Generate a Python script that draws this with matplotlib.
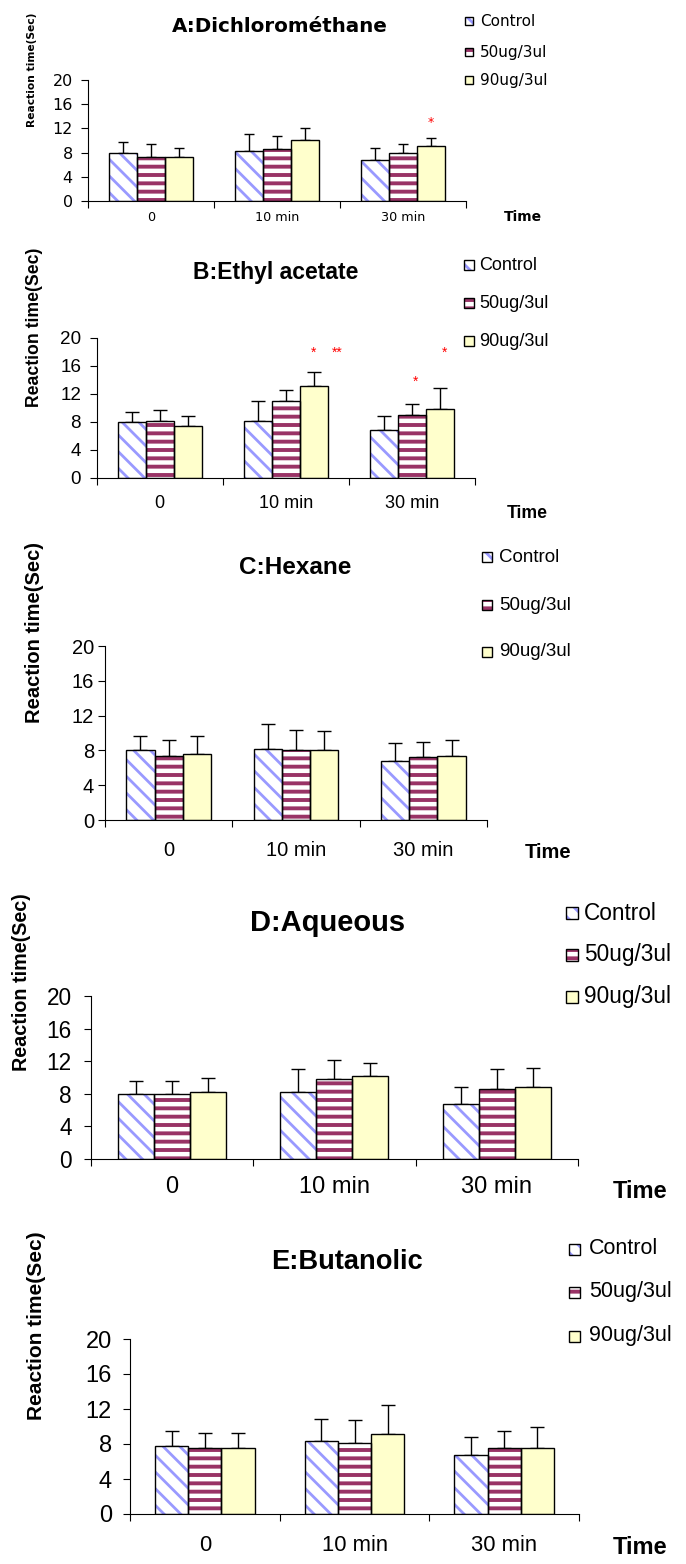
import numpy as np
import matplotlib
matplotlib.use("Agg")
import matplotlib.pyplot as plt
from matplotlib.patches import Rectangle

plt.rcParams['hatch.linewidth'] = 2.0
plt.rcParams['font.family'] = ['Liberation Sans', 'DejaVu Sans']

W, H = 686, 1564
fig = plt.figure(figsize=(W / 100, H / 100), dpi=100)

categories = ["0", "10 min", "30 min"]
series_names = ["Control", "50ug/3ul", "90ug/3ul"]

# Panel values (means) and upper error (SD)
A_control = [7.9, 8.2, 6.8]
A_50 = [7.3, 8.6, 7.9]
A_90 = [7.3, 10.1, 9.1]
A_control_sd = [1.8, 2.8, 2.0]
A_50_sd = [2.2, 2.1, 1.5]
A_90_sd = [1.5, 2.0, 1.3]

B_control = [8.0, 8.2, 6.8]
B_50 = [8.2, 11.0, 9.0]
B_90 = [7.4, 13.1, 9.9]
B_control_sd = [1.5, 2.8, 2.0]
B_50_sd = [1.5, 1.6, 1.6]
B_90_sd = [1.5, 2.0, 2.9]

C_control = [8.0, 8.2, 6.8]
C_50 = [7.4, 8.0, 7.2]
C_90 = [7.6, 8.0, 7.4]
C_control_sd = [1.6, 2.8, 2.0]
C_50_sd = [1.8, 2.4, 1.8]
C_90_sd = [2.0, 2.2, 1.8]

D_control = [8.0, 8.2, 6.8]
D_50 = [8.0, 9.8, 8.6]
D_90 = [8.2, 10.2, 8.8]
D_control_sd = [1.6, 2.8, 2.0]
D_50_sd = [1.6, 2.4, 2.4]
D_90_sd = [1.8, 1.6, 2.4]

E_control = [7.8, 8.3, 6.7]
E_50 = [7.6, 8.1, 7.5]
E_90 = [7.5, 9.1, 7.6]
E_control_sd = [1.7, 2.6, 2.1]
E_50_sd = [1.7, 2.6, 2.0]
E_90_sd = [1.8, 3.4, 2.3]

yticks = [0, 4, 8, 12, 16, 20]

# significance marks: (text, x in category units, y value)
A_stars = [("*", 2.72, 13.0)]
B_stars = [("*", 1.72, 17.9), ("**", 1.91, 17.9), ("*", 2.53, 13.7), ("*", 2.76, 17.9)]

titles = ["A:Dichlorométhane", "B:Ethyl acetate", "C:Hexane", "D:Aqueous", "E:Butanolic"]

BLUE = "#9999FF"
MAROON = "#993366"
YELLOW = "#FFFFCC"
styles = [
    dict(face="white", hc=BLUE, hatch="\\\\", hlw=2.0),
    dict(face=MAROON, hc="white", hatch="--", hlw=3.2),
    dict(face=YELLOW, hc=YELLOW, hatch=None, hlw=2.0),
]

# layout in pixels (top-origin); font sizes in points
layouts = [
    dict(left=88, right=466, ytop=80, ybot=201, title=(280, 27, 14.3), sq_x=465, txt_x=480, leg_y=[21, 52, 80],
         leg_fs=11, time=(523, 217, 10), xt_fs=9.2, xt_pad=7.2, yt_fs=11.5, yt_pad=6, yl=(32, 70, 7.7),
         fam=['DejaVu Sans'], sq=8, star_fs=9, cap=3.6),
    dict(left=96.5, right=475, ytop=338, ybot=478, title=(276, 273, 16.5), sq_x=464, txt_x=479, leg_y=[265, 303, 341],
         leg_fs=13, time=(527, 513, 12.7), xt_fs=13, xt_pad=12.2, yt_fs=13.6, yt_pad=6, yl=(35, 327, 12.7),
         fam=['Liberation Sans'], sq=10, star_fs=10, cap=5),
    dict(left=105, right=487, ytop=646, ybot=820, title=(295, 568, 17.5), sq_x=482, txt_x=499, leg_y=[557, 605, 652],
         leg_fs=13.5, time=(548, 852, 14.5), xt_fs=14.5, xt_pad=15, yt_fs=14.5, yt_pad=3, yl=(35, 633, 14.5),
         fam=['Liberation Sans'], sq=10, star_fs=10, cap=5),
    dict(left=90.5, right=578, ytop=996, ybot=1159, title=(328, 923, 21), sq_x=566, txt_x=584, leg_y=[913, 955, 997],
         leg_fs=16.3, time=(640, 1192, 17), xt_fs=17, xt_pad=12.2, yt_fs=16.3, yt_pad=8.6, yl=(22, 982, 14.2),
         fam=['Liberation Sans'], sq=12, star_fs=10, cap=5),
    dict(left=130, right=579, ytop=1339, ybot=1514, title=(347, 1262, 19.6), sq_x=569, txt_x=589, leg_y=[1249, 1292, 1336],
         leg_fs=15.5, time=(640, 1547, 17), xt_fs=15.8, xt_pad=15, yt_fs=17, yt_pad=8, yl=(37, 1326, 15),
         fam=['Liberation Sans'], sq=11, star_fs=10, cap=5),
]

panels = [
    ([A_control, A_50, A_90], [A_control_sd, A_50_sd, A_90_sd], A_stars),
    ([B_control, B_50, B_90], [B_control_sd, B_50_sd, B_90_sd], B_stars),
    ([C_control, C_50, C_90], [C_control_sd, C_50_sd, C_90_sd], []),
    ([D_control, D_50, D_90], [D_control_sd, D_50_sd, D_90_sd], []),
    ([E_control, E_50, E_90], [E_control_sd, E_50_sd, E_90_sd], []),
]


def fx(x):
    return x / W


def fy(y):
    return 1 - y / H


def set_hlw(patch, lw):
    if hasattr(patch, 'set_hatch_linewidth'):
        try:
            patch.set_hatch_linewidth(lw)
        except Exception:
            pass


bw = 0.222
for (vals, sds, stars), lay, title in zip(panels, layouts, titles):
    fam = lay['fam']
    ax = fig.add_axes([fx(lay['left']), fy(lay['ybot']), (lay['right'] - lay['left']) / W,
                       (lay['ybot'] - lay['ytop']) / H])
    ax.set_xlim(0, 3)
    ax.set_ylim(0, 20)
    centers = np.arange(len(categories)) + 0.5
    for i, (v, sd, st) in enumerate(zip(vals, sds, styles)):
        x = centers + (i - 1) * bw
        ax.errorbar(x, v, yerr=[np.zeros(len(v)), sd], fmt='none', ecolor='black', elinewidth=1.0,
                    capsize=lay['cap'], capthick=1.0, zorder=1)
        bars = ax.bar(x, v, bw, color=st['face'], edgecolor=st['hc'], hatch=st['hatch'], linewidth=0, zorder=2)
        for b in bars:
            set_hlw(b, st['hlw'])
        ax.bar(x, v, bw, fill=False, edgecolor='black', linewidth=1.0, zorder=3)
    for txt, sx, sy in stars:
        ax.text(sx, sy, txt, color='red', fontsize=lay['star_fs'], ha='center', va='center', family=fam)
    for s in ['top', 'right']:
        ax.spines[s].set_visible(False)
    ax.spines['left'].set_linewidth(0.8)
    ax.spines['bottom'].set_linewidth(0.8)
    ax.set_yticks(yticks)
    ax.set_yticklabels([str(t) for t in yticks], fontsize=lay['yt_fs'], family=fam)
    ax.tick_params(axis='y', direction='out', length=5, width=0.8, pad=lay['yt_pad'])
    ax.set_xticks([0, 1, 2, 3])
    ax.set_xticklabels([])
    ax.tick_params(axis='x', which='major', direction='out', length=5, width=0.8)
    ax.set_xticks(centers, minor=True)
    ax.set_xticklabels(categories, minor=True, fontsize=lay['xt_fs'], family=fam)
    ax.tick_params(axis='x', which='minor', length=0, pad=lay['xt_pad'])
    ax.set_facecolor('none')

    tx, ty, tfs = lay['title']
    fig.text(fx(tx), fy(ty), title, ha='center', va='center', fontsize=tfs, fontweight='bold', family=fam)
    tmx, tmy, tmfs = lay['time']
    fig.text(fx(tmx), fy(tmy), "Time", ha='center', va='center', fontsize=tmfs, fontweight='bold', family=fam)
    ylx, yly, ylfs = lay['yl']
    fig.text(fx(ylx), fy(yly), "Reaction time(Sec)", ha='center', va='center', rotation=90,
             fontsize=ylfs, fontweight='bold', family=fam)
    sq = lay['sq']
    for name, st, ly in zip(series_names, styles, lay['leg_y']):
        r = Rectangle((fx(lay['sq_x']), fy(ly + sq / 2)), sq / W, sq / H, transform=fig.transFigure,
                      facecolor=st['face'], edgecolor=st['hc'], hatch=st['hatch'], linewidth=0)
        set_hlw(r, st['hlw'])
        fig.add_artist(r)
        r2 = Rectangle((fx(lay['sq_x']), fy(ly + sq / 2)), sq / W, sq / H, transform=fig.transFigure,
                       fill=False, edgecolor='black', linewidth=1.0)
        fig.add_artist(r2)
        fig.text(fx(lay['txt_x']), fy(ly), name, ha='left', va='center', fontsize=lay['leg_fs'], family=fam)

fig.savefig("out.png", dpi=100, facecolor='white')
